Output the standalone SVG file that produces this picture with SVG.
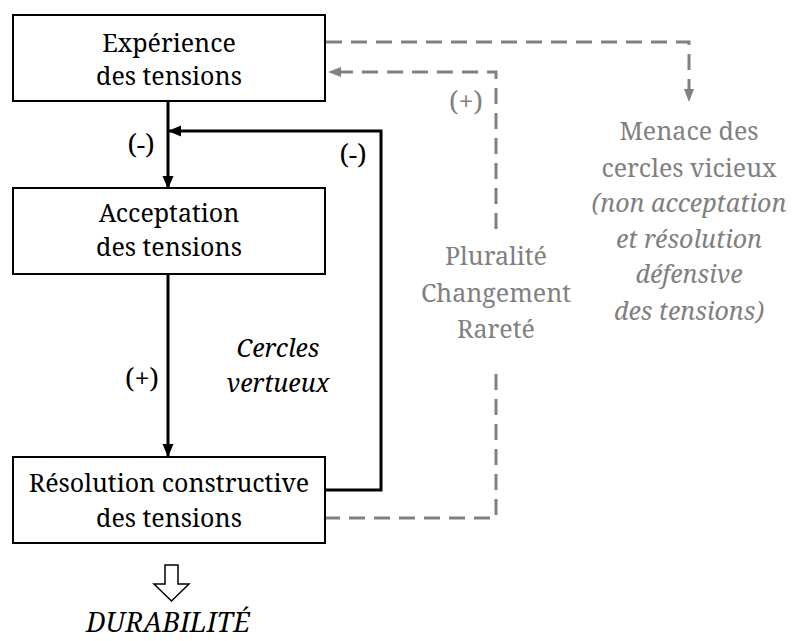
<svg xmlns="http://www.w3.org/2000/svg" width="792" height="641" viewBox="0 0 792 641">
<style>
.box{fill:#fff;stroke:#000;stroke-width:2}
text{font-family:'Noto Serif','Liberation Serif','DejaVu Serif',serif;font-size:25px;text-anchor:middle;fill:#000}
.g{fill:#808080}
.i{font-style:italic}
.s{font-size:27px}
.blk{fill:none;stroke:#000;stroke-width:3}
.dash{fill:none;stroke:#808080;stroke-width:3;stroke-dasharray:16 9}
</style>
<defs>
<marker id="ab" markerUnits="userSpaceOnUse" markerWidth="14" markerHeight="14" viewBox="0 0 14 14" refX="12" refY="7" orient="auto"><path d="M0,1.5 L13,7 L0,12.5 Z" fill="#000"/></marker>
<marker id="ag" markerUnits="userSpaceOnUse" markerWidth="14" markerHeight="14" viewBox="0 0 14 14" refX="12" refY="7" orient="auto"><path d="M0,2 L13,7 L0,12 Z" fill="#808080"/></marker>
</defs>
<rect width="792" height="641" fill="#fff"/>
<g id="connectors">
<line class="blk" x1="168" y1="101" x2="168" y2="188" marker-end="url(#ab)"/>
<line class="blk" x1="168" y1="274" x2="168" y2="456" marker-end="url(#ab)"/>
<path class="blk" d="M325,490 H381 V131 H169" marker-end="url(#ab)"/>
<path class="dash" d="M326,42 H689 V101" marker-end="url(#ag)"/>
<path class="dash" d="M496,229 V72 H329" marker-end="url(#ag)"/>
<path class="dash" d="M496,374 V518 H326"/>
<polygon points="165,565 178,565 178,584 189,584 171.5,601 154,584 165,584" fill="#fff" stroke="#000" stroke-width="1.5"/>
<text class="s" x="141" y="154">(-)</text>
<text class="s" x="353" y="164">(-)</text>
<text class="s" x="142" y="388">(+)</text>
<text class="i" x="278" y="357">Cercles</text>
<text class="i" x="278" y="392">vertueux</text>
<text class="g s" x="466" y="111">(+)</text>
</g>
<g id="n1"><rect class="box" x="13" y="15" width="312" height="86"/>
<text x="169" y="52">Expérience</text><text x="169" y="85">des tensions</text></g>
<g id="n2"><rect class="box" x="13" y="188" width="312" height="86"/>
<text x="169" y="222">Acceptation</text><text x="169" y="256">des tensions</text></g>
<g id="n3"><rect class="box" x="13" y="457" width="312" height="86"/>
<text x="169" y="492">Résolution constructive</text><text x="169" y="527">des tensions</text></g>
<g id="n4"><text class="g" x="496" y="265">Pluralité</text><text class="g" x="496" y="302">Changement</text><text class="g" x="496" y="338">Rareté</text></g>
<g id="n5"><text class="g" x="689" y="140">Menace des</text><text class="g" x="689" y="177">cercles vicieux</text>
<text class="g i" x="689" y="212">(non acceptation</text><text class="g i" x="689" y="248">et résolution</text>
<text class="g i" x="689" y="283">défensive</text><text class="g i" x="689" y="320">des tensions)</text></g>
<g id="n6"><text class="i s" x="168" y="632">DURABILITÉ</text></g>
</svg>
